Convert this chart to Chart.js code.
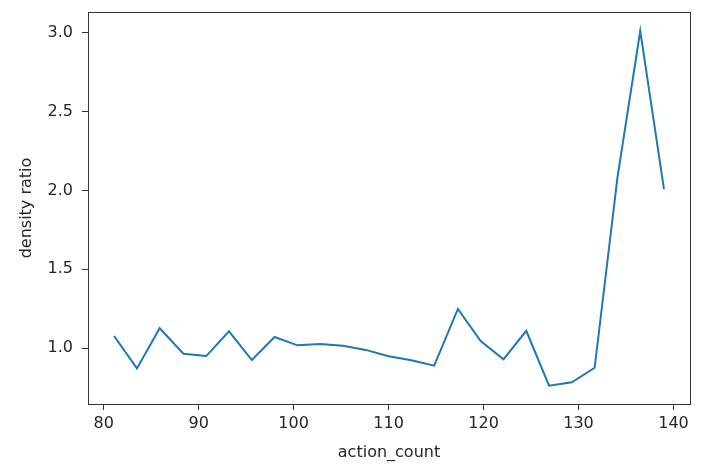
<!DOCTYPE html>
<html>
<head>
<meta charset="utf-8">
<script src="https://cdn.jsdelivr.net/npm/chart.js@4/dist/chart.umd.min.js"></script>
<style>
html,body{margin:0;padding:0;background:#fff;}
#wrap{width:720px;height:470px;}
</style>
</head>
<body>
<div id="wrap"><canvas id="c" width="720" height="470"></canvas></div>
<script>
const actionCount = [81.1, 83.5, 85.9, 88.4, 90.8, 93.2, 95.6, 98.0, 100.4, 102.8, 105.2, 107.6, 110.0, 112.4, 114.8, 117.3, 119.7, 122.1, 124.5, 126.9, 129.3, 131.7, 134.1, 136.5, 139.0];
const densityRatio = [1.078, 0.873, 1.127, 0.966, 0.951, 1.108, 0.926, 1.072, 1.019, 1.027, 1.016, 0.99, 0.95, 0.925, 0.89, 1.249, 1.046, 0.93, 1.111, 0.763, 0.785, 0.877, 2.08, 3.01, 2.008];
const xTicks = [80, 90, 100, 110, 120, 130, 140];
const yTicks = [1.0, 1.5, 2.0, 2.5, 3.0];

const FONT = "'DejaVu Sans', sans-serif";
const TXT = '#262626';

const frame = {
  id: 'frame',
  afterDraw(chart) {
    const {ctx, chartArea: a} = chart;
    ctx.save();
    ctx.strokeStyle = '#333';
    ctx.lineWidth = 1;
    ctx.strokeRect(Math.round(a.left) + 0.5, Math.round(a.top) + 0.5, Math.round(a.right - a.left), Math.round(a.bottom - a.top));
    ctx.restore();
  }
};

new Chart(document.getElementById('c'), {
  type: 'line',
  data: {
    datasets: [{
      data: actionCount.map((x, i) => ({x: x, y: densityRatio[i]})),
      borderColor: '#1f77b4',
      borderWidth: 2,
      pointRadius: 0,
      fill: false,
      tension: 0
    }]
  },
  options: {
    responsive: false,
    animation: false,
    devicePixelRatio: 1,
    layout: {padding: {left: 0, right: 30, top: 12, bottom: 0}},
    plugins: {legend: {display: false}, tooltip: {enabled: false}},
    scales: {
      x: {
        type: 'linear',
        min: 78.35,
        max: 141.74,
        afterBuildTicks: s => { s.ticks = xTicks.map(v => ({value: v})); },
        afterFit: s => { s.height = 66; s.paddingLeft = 0; s.paddingRight = 0; },
        grid: {display: true, drawOnChartArea: false, drawTicks: true, tickLength: 6, tickColor: '#333', color: '#333'},
        border: {display: false},
        ticks: {color: TXT, font: {family: FONT, size: 16}, padding: 4, maxRotation: 0,
          callback: v => String(v)},
        title: {display: true, text: 'action_count', color: TXT, font: {family: FONT, size: 16}, padding: {top: 2, bottom: 8}}
      },
      y: {
        type: 'linear',
        min: 0.6475,
        max: 3.129,
        afterBuildTicks: s => { s.ticks = yTicks.map(v => ({value: v})); },
        afterFit: s => { s.width = 88; s.paddingTop = 0; s.paddingBottom = 0; },
        grid: {display: true, drawOnChartArea: false, drawTicks: true, tickLength: 6, tickColor: '#333', color: '#333'},
        border: {display: false},
        ticks: {color: TXT, font: {family: FONT, size: 16}, padding: 9,
          callback: v => Number(v).toFixed(1)},
        title: {display: true, text: 'density ratio', color: TXT, font: {family: FONT, size: 16}, padding: {top: 17, bottom: 0}}
      }
    }
  },
  plugins: [frame]
});
</script>
</body>
</html>
